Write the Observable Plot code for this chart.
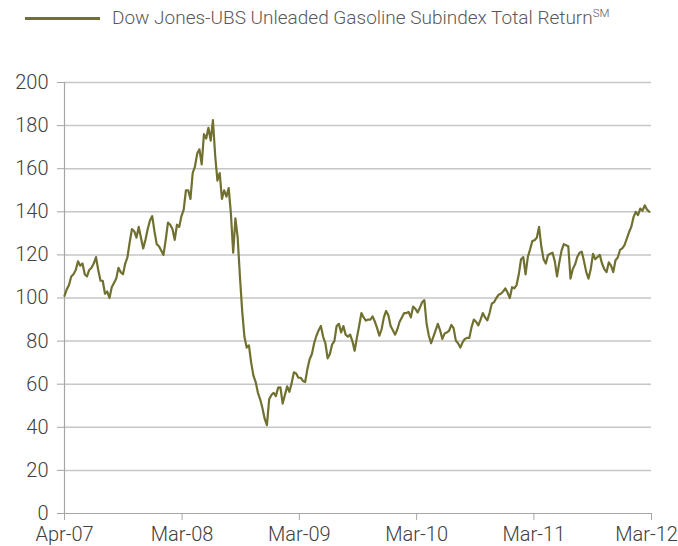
<!DOCTYPE html>
<html><head><meta charset="utf-8">
<script src="https://cdn.jsdelivr.net/npm/d3@7"></script>
<script src="https://cdn.jsdelivr.net/npm/@observablehq/plot@0.6"></script>
<style>
body{margin:0;background:#fff;}
#wrap{position:relative;width:678px;height:546px;overflow:hidden;font-family:Roboto,"Liberation Sans",sans-serif;}
#legend{position:absolute;left:0;top:0;width:678px;height:50px;}
#legend .sw{position:absolute;left:25px;top:17px;width:75px;height:3px;background:#707030;}
#legend .lt{position:absolute;left:112px;top:6px;font-size:19px;font-weight:300;color:#595959;white-space:nowrap;line-height:24px;}
#legend sup{font-size:11.5px;vertical-align:7px;line-height:0;}
#chart{position:absolute;left:0;top:50px;}
</style></head><body>
<div id="wrap">
  <div id="legend"><span class="sw"></span><span class="lt" id="lt"></span></div>
  <div id="chart"></div>
</div>
<script>
const seriesName = "Dow Jones-UBS Unleaded Gasoline Subindex Total Return";
const seriesMark = "SM";
const startDate = "2007-03-31"; // weekly observations from this date
const values = [
  101, 104, 106, 110, 111, 113, 117, 115, 116, 111,
  110, 113, 114, 116, 119, 113, 108, 108, 102, 103,
  100, 105, 107, 109, 114, 112, 111, 116, 119, 126,
  132, 131, 128, 133, 128, 123, 127, 132, 136, 138,
  131, 125, 124, 122, 120, 127, 135, 134,
  132, 127, 134, 133, 138, 141, 150, 150, 146, 158,
  161, 167, 169, 162, 176, 174, 179, 173, 182.5, 166,
  154.5, 158, 146, 150, 147, 151, 139, 121, 137, 128,
  110, 94, 82, 77, 78, 70, 64, 61, 56, 53,
  49, 44, 41, 53,
  55, 56, 54.5, 58.4, 58.5, 51, 55, 59, 56.5, 60.5,
  65.5, 65, 63, 63, 61.5, 61, 67, 71.6, 74, 79,
  82.5, 85, 87, 82, 79, 72, 74, 78.5, 80, 87,
  88, 84, 87, 83, 82, 83, 80, 75.5, 81.5, 87,
  93, 91, 89.5, 90,
  90, 91.5, 89, 86, 82.5, 85.5, 91, 94, 92, 87,
  85, 83, 85.5, 89, 91, 93, 93, 93.5, 91, 96,
  95, 93.3, 95.5, 98, 99, 88, 82.5, 79, 82, 85,
  88, 85, 81, 83.5, 84, 84.8, 87.5, 86, 80.2, 79,
  77, 79.4, 81, 81.5,
  81.5, 86.5, 90, 89, 87.3, 90, 93, 91, 89.6, 93,
  97.5, 98, 100, 101.5, 102, 103, 104.5, 102.5, 100, 105,
  104.5, 106, 111, 118, 119, 111, 119, 122.5, 126.4, 126.8,
  128, 133, 124, 118, 116, 120, 120.5, 121, 117, 110,
  116.5, 122, 125, 124.5, 124, 109, 113.5, 115.5, 119, 121,
  121.5, 117, 112, 109, 113.5, 120.5, 118, 119, 120, 116,
  113.4, 112, 116.5, 115, 112, 117.5, 118.8, 122.3, 123, 124.5,
  127.5, 130.5, 133, 137.5, 140, 138.5, 141.5, 140.5, 143, 141,
  140
];
const tickDates = ["2007-03-31", "2008-03-31", "2009-03-31", "2010-03-31", "2011-03-31", "2012-03-31"];
const tickLabels = ["Apr-07", "Mar-08", "Mar-09", "Mar-10", "Mar-11", "Mar-12"];
const yTicks = [0, 20, 40, 60, 80, 100, 120, 140, 160, 180, 200];

document.getElementById("lt").innerHTML = seriesName + "<sup>" + seriesMark + "</sup>";

const t0 = new Date(startDate + "T00:00:00Z");
const data = values.map((v, i) => ({date: d3.utcDay.offset(t0, 7 * i), value: v}));
const tDates = tickDates.map(d => new Date(d + "T00:00:00Z"));
const xLabels = tDates.map((d, i) => ({date: d, label: tickLabels[i]}));
const n = xLabels.length;

const chart = Plot.plot({
  width: 678,
  height: 496,
  marginTop: 32,
  marginBottom: 33,
  marginLeft: 64,
  marginRight: 27,
  style: {fontFamily: "Roboto, 'Liberation Sans', sans-serif", fontSize: "20px", fontWeight: 300, background: "white", overflow: "visible"},
  x: {type: "utc", domain: [tDates[0], tDates[n - 1]]},
  y: {domain: [0, 200]},
  marks: [
    Plot.gridY(yTicks.filter(d => d > 0), {stroke: "#c6c6c6", strokeOpacity: 1, strokeWidth: 1.5}),
    Plot.ruleX([tDates[0]], {stroke: "#a6a6a6", strokeWidth: 1.2}),
    Plot.ruleY([0], {stroke: "#a6a6a6", strokeWidth: 1.2}),
    Plot.axisY({ticks: yTicks, tickSize: 7, tickPadding: 9, stroke: "#a6a6a6", fill: "#404040", label: null}),
    Plot.axisX({ticks: tDates, tickFormat: () => "", tickSize: 7, stroke: "#a6a6a6", label: null}),
    Plot.text(xLabels.slice(0, n - 1), {x: "date", text: "label", frameAnchor: "bottom", lineAnchor: "top", dy: 13, fill: "#404040"}),
    Plot.text(xLabels.slice(n - 1), {x: "date", text: "label", frameAnchor: "bottom", lineAnchor: "top", dy: 13, dx: -5, fill: "#404040"}),
    Plot.lineY(data, {x: "date", y: "value", stroke: "#707030", strokeWidth: 2.2})
  ]
});
document.getElementById("chart").appendChild(chart);
</script>
</body></html>
